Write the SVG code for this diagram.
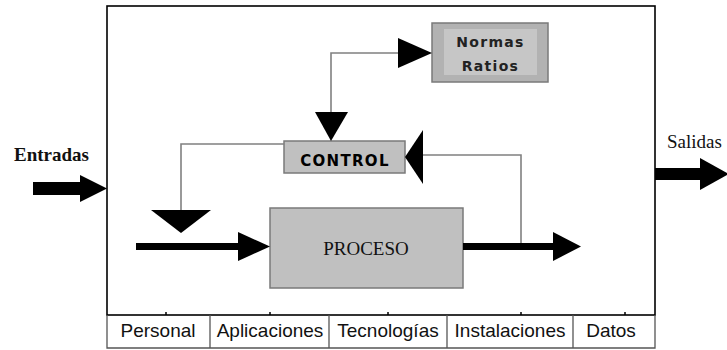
<svg xmlns="http://www.w3.org/2000/svg" width="727" height="350" viewBox="0 0 727 350">
  <style>
    .frame { fill: none; stroke: #000; stroke-width: 1.6; }
    .cell { fill: none; stroke: #555; stroke-width: 1.3; }
    .tick { stroke: #000; stroke-width: 1.5; }
    .box { fill: #c0c0c0; stroke: #7a7a7a; stroke-width: 1.5; }
    .thin { fill: none; stroke: #808080; stroke-width: 1.6; }
    .head { fill: #000; }
    .bar { fill: #000; }
    .serif { font-family: "Liberation Serif", "Times New Roman", serif; fill: #111; }
    .sans { font-family: "Liberation Sans", Arial, sans-serif; fill: #111; }
    .heavy { font-family: "DejaVu Sans", "Liberation Sans", sans-serif; font-weight: bold; text-anchor: middle; }
    .label { font-size: 19px; text-anchor: middle; }
  </style>

  <!-- system boundary -->
  <g id="system">
    <rect class="frame" x="107" y="6" width="548" height="309"/>
  </g>

  <!-- resource strip along the base -->
  <g id="resources">
    <polyline class="cell" points="107,315 107,348 655,348 655,315"/>
    <line class="cell" x1="210" y1="315" x2="210" y2="348"/>
    <line class="cell" x1="329" y1="315" x2="329" y2="348"/>
    <line class="cell" x1="447" y1="315" x2="447" y2="348"/>
    <line class="cell" x1="573" y1="315" x2="573" y2="348"/>
    <line class="tick" x1="166" y1="312" x2="166" y2="315"/>
    <line class="tick" x1="270" y1="312" x2="270" y2="315"/>
    <line class="tick" x1="388" y1="312" x2="388" y2="315"/>
    <line class="tick" x1="521" y1="312" x2="521" y2="315"/>
    <line class="tick" x1="625" y1="312" x2="625" y2="315"/>
    <text class="sans label" x="158" y="337">Personal</text>
    <text class="sans label" x="270" y="337">Aplicaciones</text>
    <text class="sans label" x="388" y="337">Tecnologías</text>
    <text class="sans label" x="510" y="337">Instalaciones</text>
    <text class="sans label" x="611" y="337">Datos</text>
  </g>

  <!-- norms / ratios -->
  <g id="normas">
    <rect x="432" y="23" width="116" height="59" fill="#b2b2b2" stroke="#7a7a7a" stroke-width="1.5"/>
    <rect x="444" y="29" width="93" height="46" fill="#c6c6c6"/>
    <text class="heavy" x="490.5" y="47" font-size="14" letter-spacing="1.3" fill="#222">Normas</text>
    <text class="heavy" x="490.5" y="71" font-size="14" letter-spacing="1.3" fill="#222">Ratios</text>
  </g>

  <!-- control -->
  <g id="control">
    <rect class="box" x="284" y="141" width="121" height="32"/>
    <text class="heavy" x="345" y="166" font-size="15" letter-spacing="1.3" fill="#000">CONTROL</text>
  </g>

  <!-- process -->
  <g id="proceso">
    <rect class="box" x="270" y="208" width="193" height="80"/>
    <text class="serif" x="366" y="255" font-size="19" text-anchor="middle">PROCESO</text>
  </g>

  <!-- outside labels -->
  <g id="entradas">
    <text class="serif" x="14" y="161" font-size="19" font-weight="bold">Entradas</text>
  </g>
  <g id="salidas">
    <text class="serif" x="667" y="148" font-size="19">Salidas</text>
  </g>

  <!-- connectors -->
  <g id="connectors">
    <!-- control to norms -->
    <polyline class="thin" points="331,112 331,53 399,53"/>
    <polygon class="head" points="398,38 398,68 432,53"/>
    <!-- norms back down to control -->
    <polygon class="head" points="315,112 348,112 331,141"/>

    <!-- control feedback onto the input line -->
    <polyline class="thin" points="284,144 181,144 181,211"/>
    <polygon class="head" points="151,210 211,210 181,233"/>

    <!-- output sampled back into control -->
    <polyline class="thin" points="521,243 521,155 422,155"/>
    <polygon class="head" points="423,130 423,184 405,157"/>

    <!-- input into process -->
    <rect class="bar" x="136" y="243" width="103" height="7"/>
    <polygon class="head" points="238,232 238,261 270,246.5"/>

    <!-- process output -->
    <rect class="bar" x="463" y="243" width="91" height="7"/>
    <polygon class="head" points="553,232 553,261 581,246.5"/>

    <!-- system input -->
    <rect class="bar" x="33" y="182" width="48" height="13"/>
    <polygon class="head" points="80,175 80,202 107,188.5"/>

    <!-- system output -->
    <rect class="bar" x="655" y="168" width="46" height="12"/>
    <polygon class="head" points="700,158 700,190 729,174"/>
  </g>
</svg>
